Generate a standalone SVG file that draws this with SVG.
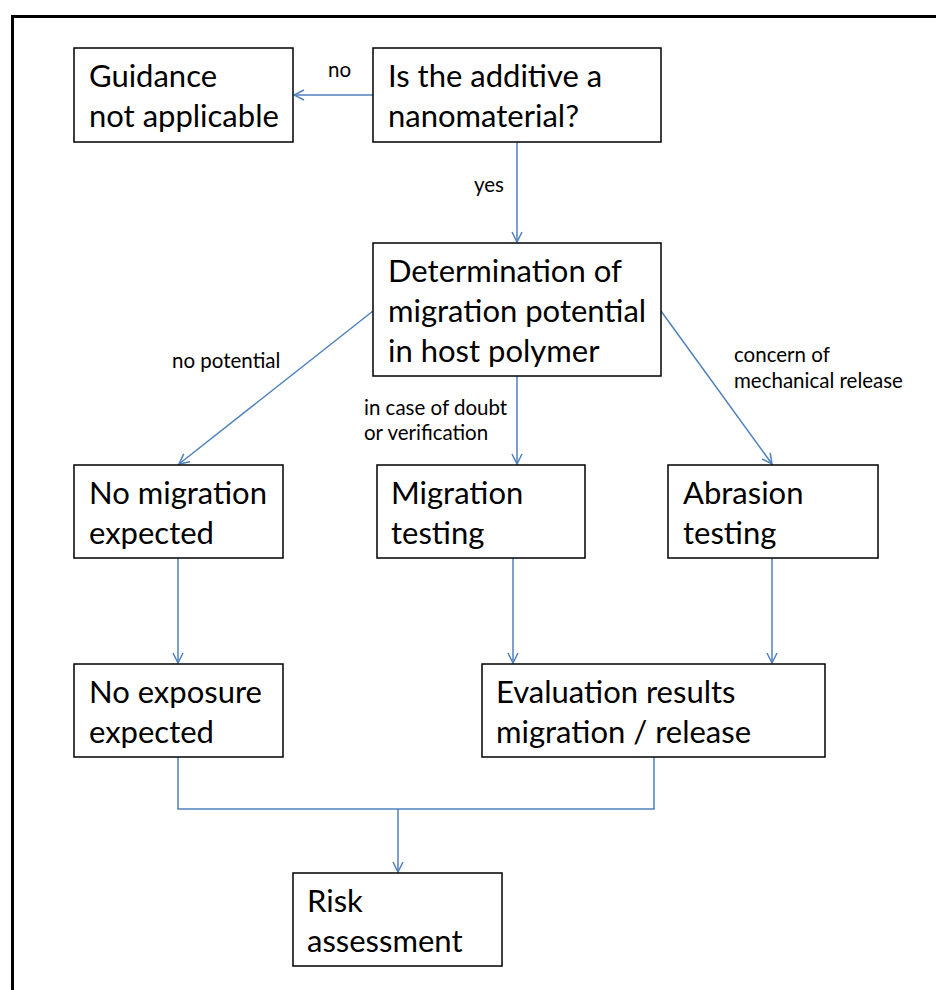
<svg xmlns="http://www.w3.org/2000/svg" width="936" height="990" viewBox="0 0 936 990">
<style>
.box{fill:#fff;stroke:#000;stroke-width:1.5}
.t{font-family:Lato,"Liberation Sans",sans-serif;font-size:31px;fill:#000}
.s{font-family:Lato,"Liberation Sans",sans-serif;font-size:20.5px;fill:#000}
.c{fill:none;stroke:#4F81BD;stroke-width:1.5}
</style>
<defs>
<marker id="ah" viewBox="0 0 12 12" refX="11" refY="6" markerWidth="12" markerHeight="12" markerUnits="userSpaceOnUse" orient="auto">
<path d="M1,1 L11,6 L1,11" fill="none" stroke="#4F81BD" stroke-width="1.5"/>
</marker>
</defs>
<rect width="936" height="990" fill="#fff"/>
<path d="M12.5,990 V16.5 H936" fill="none" stroke="#000" stroke-width="3"/>
<g id="connectors">
<path class="c" d="M373,95 H294" marker-end="url(#ah)"/>
<path class="c" d="M517,142 V242" marker-end="url(#ah)"/>
<path class="c" d="M373,311 L179,464" marker-end="url(#ah)"/>
<path class="c" d="M517,376 V464" marker-end="url(#ah)"/>
<path class="c" d="M661,311 L772,464" marker-end="url(#ah)"/>
<path class="c" d="M178,558 V663" marker-end="url(#ah)"/>
<path class="c" d="M513,558 V663" marker-end="url(#ah)"/>
<path class="c" d="M772,558 V663" marker-end="url(#ah)"/>
<path class="c" d="M178,757 V809 H654 V757"/>
<path class="c" d="M398,809 V872" marker-end="url(#ah)"/>
<text class="s" x="328" y="77">no</text>
<text class="s" x="474" y="192">yes</text>
<text class="s" x="172" y="368">no potential</text>
<text class="s" x="364" y="415">in case of doubt</text>
<text class="s" x="364" y="440">or verification</text>
<text class="s" x="734" y="362">concern of</text>
<text class="s" x="734" y="388">mechanical release</text>
</g>
<g id="guidance"><rect class="box" x="74" y="48" width="219" height="94"/><text class="t" x="89" y="87">Guidance</text><text class="t" x="89" y="127">not applicable</text></g>
<g id="nanomaterial"><rect class="box" x="373" y="48" width="288" height="94"/><text class="t" x="388" y="87">Is the additive a</text><text class="t" x="388" y="127">nanomaterial?</text></g>
<g id="determination"><rect class="box" x="373" y="243" width="288" height="133"/><text class="t" x="388" y="282">Determination of</text><text class="t" x="388" y="322">migration potential</text><text class="t" x="388" y="362">in host polymer</text></g>
<g id="nomigration"><rect class="box" x="74" y="465" width="209" height="93"/><text class="t" x="89" y="504">No migration</text><text class="t" x="89" y="544">expected</text></g>
<g id="migrationtesting"><rect class="box" x="377" y="465" width="208" height="93"/><text class="t" x="391" y="504">Migration</text><text class="t" x="391" y="544">testing</text></g>
<g id="abrasion"><rect class="box" x="668" y="465" width="210" height="93"/><text class="t" x="683" y="504">Abrasion</text><text class="t" x="683" y="544">testing</text></g>
<g id="noexposure"><rect class="box" x="74" y="664" width="209" height="93"/><text class="t" x="89" y="703">No exposure</text><text class="t" x="89" y="743">expected</text></g>
<g id="evaluation"><rect class="box" x="482" y="664" width="343" height="93"/><text class="t" x="496" y="703">Evaluation results</text><text class="t" x="496" y="743">migration / release</text></g>
<g id="risk"><rect class="box" x="293" y="873" width="209" height="93"/><text class="t" x="307" y="912">Risk</text><text class="t" x="307" y="952">assessment</text></g>
</svg>
